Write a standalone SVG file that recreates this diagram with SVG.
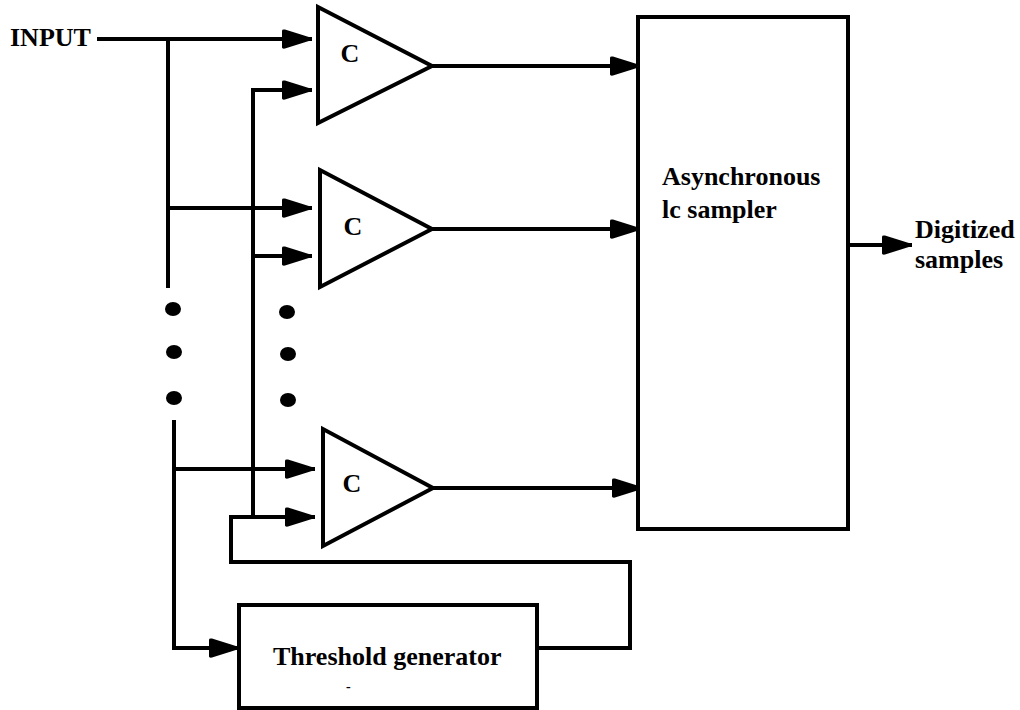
<svg xmlns="http://www.w3.org/2000/svg" width="1020" height="710" viewBox="0 0 1020 710">
<style>
.w{fill:none;stroke:#000;stroke-width:4;stroke-linejoin:miter}
.b{fill:#fff;stroke:#000;stroke-width:4}
.t{font-family:"Liberation Serif","Times New Roman",serif;font-weight:bold;font-size:26px;fill:#000}
.d{fill:#000}
</style>
<defs>
<marker id="ah" markerUnits="userSpaceOnUse" markerWidth="34" markerHeight="24" refX="32" refY="12" orient="auto" viewBox="0 0 34 24">
<path d="M2,3.5 Q2,2 5,2.5 L32,11 L32,13 L5,21.5 Q2,22 2,20.5 Z" fill="#000"/>
</marker>
</defs>
<rect width="1020" height="710" fill="#fff"/>
<g id="connectors">
<path class="w" d="M97,39 H312" marker-end="url(#ah)"/>
<path class="w" d="M168,39 V288"/>
<path class="w" d="M168,208 H312" marker-end="url(#ah)"/>
<path class="w" d="M253,518 V90 H312" marker-end="url(#ah)"/>
<path class="w" d="M253,256 H312" marker-end="url(#ah)"/>
<path class="w" d="M174,420 V648 H239" marker-end="url(#ah)"/>
<path class="w" d="M174,469 H315" marker-end="url(#ah)"/>
<path class="w" d="M253,517 H315" marker-end="url(#ah)"/>
<path class="w" d="M253,517 H231 V562 H630 V648 H537"/>
<path class="w" d="M432,66 H640" marker-end="url(#ah)"/>
<path class="w" d="M432,229 H640" marker-end="url(#ah)"/>
<path class="w" d="M433,488 H642" marker-end="url(#ah)"/>
<path class="w" d="M848,245 H912" marker-end="url(#ah)"/>
<ellipse class="d" cx="173" cy="309" rx="8" ry="7"/>
<ellipse class="d" cx="174" cy="352" rx="8" ry="7"/>
<ellipse class="d" cx="174" cy="398" rx="8" ry="7"/>
<ellipse class="d" cx="287" cy="312" rx="8" ry="7"/>
<ellipse class="d" cx="288" cy="354" rx="8" ry="7"/>
<ellipse class="d" cx="288" cy="400" rx="8" ry="7"/>
</g>
<g id="input"><text class="t" x="10" y="46">INPUT</text></g>
<g id="comp1"><polygon class="b" points="318,7 318,123 432,66"/><text class="t" x="350" y="62" text-anchor="middle">C</text></g>
<g id="comp2"><polygon class="b" points="320,170 320,287 432,229"/><text class="t" x="353" y="235" text-anchor="middle">C</text></g>
<g id="comp3"><polygon class="b" points="323,429 323,546 433,488"/><text class="t" x="352" y="492" text-anchor="middle">C</text></g>
<g id="sampler"><rect class="b" x="638" y="17" width="210" height="512"/><text class="t" x="662" y="185">Asynchronous</text><text class="t" x="662" y="218">lc sampler</text></g>
<g id="output"><text class="t" x="915" y="238">Digitized</text><text class="t" x="915" y="268">samples</text></g>
<g id="threshold"><rect class="b" x="239" y="605" width="298" height="103"/><text class="t" x="273" y="665">Threshold generator</text><text class="t" x="346" y="691" style="font-size:14px">-</text></g>
</svg>
